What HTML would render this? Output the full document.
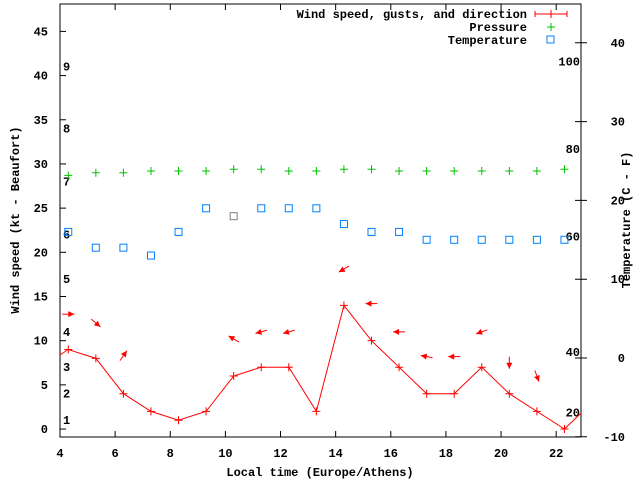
<!DOCTYPE html>
<html><head><meta charset="utf-8"><style>
html,body{margin:0;padding:0;background:#fff;}
svg{display:block;font-family:"Liberation Mono","DejaVu Sans Mono",monospace;font-weight:bold;font-size:12px;}
</style></head><body>
<svg id="chart" width="640" height="480" viewBox="0 0 640 480" xmlns="http://www.w3.org/2000/svg">
<rect width="640" height="480" fill="#fff"/>
<defs><clipPath id="clip"><rect x="60" y="4" width="521" height="433"/></clipPath></defs>
<g id="axes"></g>
<g id="plot" clip-path="url(#clip)"></g>
<g id="legend">
<text x="527" y="18" text-anchor="end">Wind speed, gusts, and direction</text>
<line x1="535" y1="14" x2="567" y2="14" stroke="#f00"/>
<line x1="535" y1="11" x2="535" y2="17" stroke="#f00"/><line x1="567" y1="11" x2="567" y2="17" stroke="#f00"/><line x1="551" y1="10" x2="551" y2="18" stroke="#f00"/>
<text x="527" y="31" text-anchor="end">Pressure</text>
<path d="M547 27h8M551 23v8" stroke="#00c000"/>
<text x="527" y="44" text-anchor="end">Temperature</text>
<rect x="547" y="36" width="7" height="7" fill="none" stroke="#0080ff"/>
</g>
</svg>
<script>
const times=[4.3,5.3,6.3,7.3,8.3,9.3,10.3,11.3,12.3,13.3,14.3,15.3,16.3,17.3,18.3,19.3,20.3,21.3,22.3];
const windLineTimes=[3.3,4.3,5.3,6.3,7.3,8.3,9.3,10.3,11.3,12.3,13.3,14.3,15.3,16.3,17.3,18.3,19.3,20.3,21.3,22.3,23.3];
const windSpeed=[7,9,8,4,2,1,2,6,7,7,2,14,10,7,4,4,7,4,2,0,3];
const pressure=[28.7,29,29,29.2,29.2,29.2,29.4,29.4,29.2,29.2,29.4,29.4,29.2,29.2,29.2,29.2,29.2,29.2,29.4];
const temperature=[16,14,14,13,16,19,18,19,19,19,17,16,16,15,15,15,15,15,15];
const arrowTimes=[4.3,5.3,6.3,10.3,11.3,12.3,14.3,15.3,16.3,17.3,18.3,19.3,20.3,21.3];
const gusts=[13,12,8.3,10.2,11,11,18.1,14.2,11,8.2,8.2,11,7.5,6];
const windDir=[0,-40,55,150,195,195,210,180,180,170,180,200,270,-70];
const xTicks=[4,6,8,10,12,14,16,18,20,22];
const yTicks=[0,5,10,15,20,25,30,35,40,45];
const y2Ticks=[-10,0,10,20,30,40];
const beaufortLevels=[1,4,7,11,17,22,28,34,41];
const beaufortLabels=["1","2","3","4","5","6","7","8","9"];
const fahrenheitLevels=[1.9,8.7,21.8,31.7,41.6];
const fahrenheitLabels=["20","40","60","80","100"];

const L=60,R=581,T=4,B=437;
const X0=4,X1=22.9,Y0=-0.9,Y1=48.1,T0=-10,T1=45;
const x=v=>L+(v-X0)/(X1-X0)*(R-L);
const y=v=>B-(v-Y0)/(Y1-Y0)*(B-T);
const y2=v=>358-(v*7.88);
const NS="http://www.w3.org/2000/svg";
function mk(tag,attrs,parent){const e=document.createElementNS(NS,tag);for(const k in attrs)e.setAttribute(k,attrs[k]);parent.appendChild(e);return e;}
const axes=document.getElementById('axes'),plot=document.getElementById('plot');

const frame=mk('rect',{x:L,y:T,width:R-L,height:B-T,fill:'none',stroke:'#000'},axes);


xTicks.forEach(v=>{
  const p=mk('path',{d:`M${x(v)} ${B}v-6M${x(v)} ${T}v6`,stroke:'#000'},axes);
  
  
  const t=mk('text',{x:x(v),y:B+20,'text-anchor':'middle'},axes);t.textContent=v;
  
  
});
yTicks.forEach(v=>{
  const p=mk('path',{d:`M${L} ${y(v)}h6`,stroke:'#000'},axes);
  
  
  const t=mk('text',{x:L-12,y:y(v)+4,'text-anchor':'end'},axes);t.textContent=v;
  
  
});
y2Ticks.forEach(v=>{
  const p=mk('path',{d:`M${R} ${y2(v)}h-6M${R} ${y2(v)}h6`,stroke:'#000'},axes);
  
  
  const t=mk('text',{x:R+44,y:y2(v)+4,'text-anchor':'end'},axes);t.textContent=v;
  
  
});
beaufortLevels.forEach((v,i)=>{
  const t=mk('text',{x:63,y:y(v)+4},axes);t.textContent=beaufortLabels[i];
  
  
});
fahrenheitLevels.forEach((v,i)=>{
  const t=mk('text',{x:580,y:y(v)+4,'text-anchor':'end'},axes);t.textContent=fahrenheitLabels[i];
  
  
});
let t=mk('text',{x:320,y:476,'text-anchor':'middle'},axes);t.textContent='Local time (Europe/Athens)';


t=mk('text',{x:0,y:0,'text-anchor':'middle',transform:'translate(19,220) rotate(-90)'},axes);t.textContent='Wind speed (kt - Beaufort)';


t=mk('text',{x:0,y:0,'text-anchor':'middle',transform:'translate(630,220) rotate(-90)'},axes);t.textContent='Temperature (C - F)';



// wind line
const pl=mk('polyline',{points:windLineTimes.map((tt,i)=>x(tt)+','+y(windSpeed[i])).join(' '),fill:'none',stroke:'#f00'},plot);


windLineTimes.forEach((tt,i)=>{
  const p=mk('path',{d:`M${x(tt)-4} ${y(windSpeed[i])}h8M${x(tt)} ${y(windSpeed[i])-4}v8`,stroke:'#f00'},plot);
  
  
});
times.forEach((tt,i)=>{
  const p=mk('path',{d:`M${x(tt)-4} ${y(pressure[i])}h8M${x(tt)} ${y(pressure[i])-4}v8`,stroke:'#00c000'},plot);
  
  
});
times.forEach((tt,i)=>{
  const r=mk('rect',{x:x(tt)-3.5,y:y2(temperature[i])-3.5,width:7,height:7,fill:'none',stroke:(i===6?'#808080':'#0080ff')},plot);
  
  
});
arrowTimes.forEach((tt,i)=>{
  const a=windDir[i]*Math.PI/180,cx=x(tt),cy=y(gusts[i]);
  const dx=Math.cos(a),dy=-Math.sin(a),len=6;
  const hx=cx+dx*len,hy=cy+dy*len,tx=cx-dx*len,ty=cy-dy*len;
  const px=-dy,py=dx;
  const g=mk('g',{},plot);
  
  
  mk('line',{x1:tx,y1:ty,x2:hx,y2:hy,stroke:'#f00'},g);
  mk('polygon',{points:`${hx},${hy} ${hx-dx*6+px*3},${hy-dy*6+py*3} ${hx-dx*6-px*3},${hy-dy*6-py*3}`,fill:'#f00'},g);
});
</script>
</body></html>
